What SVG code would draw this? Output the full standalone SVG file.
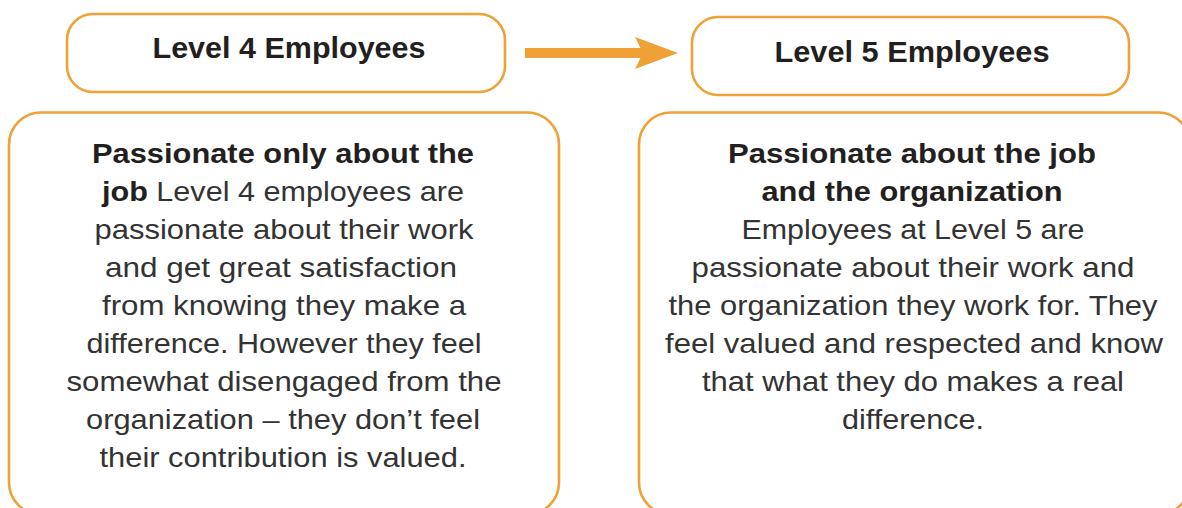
<svg xmlns="http://www.w3.org/2000/svg" width="1182" height="508" viewBox="0 0 1182 508">
  <style>
    .box { fill: #ffffff; stroke: #EFA135; stroke-width: 2.6; }
    .title { font-family: "Liberation Sans", Arial, sans-serif; font-size: 30px; font-weight: bold; fill: #231f20; text-anchor: middle; }
    .body { font-family: "Liberation Sans", Arial, sans-serif; font-size: 28px; fill: #333333; text-anchor: middle; }
    .b { font-weight: bold; fill: #231f20; }
    .link { stroke: #EFA135; stroke-width: 10; fill: none; }
  </style>
  <defs>
    <marker id="head" markerUnits="userSpaceOnUse" markerWidth="44" markerHeight="34" viewBox="0 0 44 34" refX="8" refY="17" orient="auto">
      <path d="M8,17 L0,1 L43,17 L0,33 Z" fill="#EFA135"/>
    </marker>
  </defs>

  <rect width="1182" height="508" fill="#ffffff"/>

  <!-- connector between the two level headings -->
  <g id="connectors">
    <line class="link" x1="525" y1="53" x2="643" y2="53" marker-end="url(#head)"/>
  </g>

  <g id="level4-title">
    <rect class="box" x="67" y="14" width="438" height="78" rx="26" ry="26"/>
    <text class="title" x="289" y="58" textLength="273" lengthAdjust="spacingAndGlyphs">Level 4 Employees</text>
  </g>

  <g id="level5-title">
    <rect class="box" x="692" y="17" width="437" height="78" rx="26" ry="26"/>
    <text class="title" x="912" y="62" textLength="275" lengthAdjust="spacingAndGlyphs">Level 5 Employees</text>
  </g>

  <g id="level4-detail">
    <rect class="box" x="9" y="112.5" width="550" height="402" rx="32" ry="32"/>
    <text class="body" x="283" y="163" textLength="382" lengthAdjust="spacingAndGlyphs"><tspan class="b">Passionate only about the</tspan></text>
    <text class="body" x="283" y="201" textLength="362" lengthAdjust="spacingAndGlyphs"><tspan class="b">job</tspan> Level 4 employees are</text>
    <text class="body" x="284" y="239" textLength="379" lengthAdjust="spacingAndGlyphs">passionate about their work</text>
    <text class="body" x="281" y="277" textLength="352" lengthAdjust="spacingAndGlyphs">and get great satisfaction</text>
    <text class="body" x="284" y="315" textLength="364" lengthAdjust="spacingAndGlyphs">from knowing they make a</text>
    <text class="body" x="284" y="353" textLength="395" lengthAdjust="spacingAndGlyphs">difference. However they feel</text>
    <text class="body" x="284" y="391" textLength="435" lengthAdjust="spacingAndGlyphs">somewhat disengaged from the</text>
    <text class="body" x="283" y="429" textLength="394" lengthAdjust="spacingAndGlyphs">organization – they don’t feel</text>
    <text class="body" x="283" y="467" textLength="367" lengthAdjust="spacingAndGlyphs">their contribution is valued.</text>
  </g>

  <g id="level5-detail">
    <rect class="box" x="639" y="112.5" width="551" height="402" rx="32" ry="32"/>
    <text class="body" x="912" y="163" textLength="368" lengthAdjust="spacingAndGlyphs"><tspan class="b">Passionate about the job</tspan></text>
    <text class="body" x="912" y="201" textLength="301" lengthAdjust="spacingAndGlyphs"><tspan class="b">and the organization</tspan></text>
    <text class="body" x="913" y="239" textLength="343" lengthAdjust="spacingAndGlyphs">Employees at Level 5 are</text>
    <text class="body" x="913" y="277" textLength="443" lengthAdjust="spacingAndGlyphs">passionate about their work and</text>
    <text class="body" x="913" y="315" textLength="489" lengthAdjust="spacingAndGlyphs">the organization they work for. They</text>
    <text class="body" x="914" y="353" textLength="498" lengthAdjust="spacingAndGlyphs">feel valued and respected and know</text>
    <text class="body" x="913" y="391" textLength="422" lengthAdjust="spacingAndGlyphs">that what they do makes a real</text>
    <text class="body" x="913" y="429" textLength="142" lengthAdjust="spacingAndGlyphs">difference.</text>
  </g>
</svg>
